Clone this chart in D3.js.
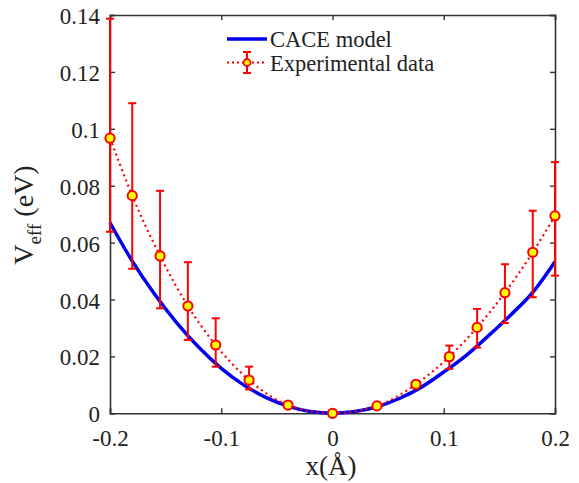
<!DOCTYPE html>
<html><head><meta charset="utf-8">
<script src="https://cdn.jsdelivr.net/npm/d3@7"></script>
<style>body{margin:0;background:#fff}svg{display:block}text{font-family:"Liberation Serif","Times New Roman",Times,"DejaVu Serif",serif;fill:#222}</style>
</head><body><svg id="c" width="579" height="483"></svg>
<script>
const modelX = [-0.2,-0.18,-0.16,-0.14,-0.12,-0.1,-0.08,-0.06,-0.04,-0.02,0,0.02,0.04,0.06,0.08,0.1,0.12,0.14,0.16,0.18,0.2];
const modelY = [0.067,0.0535,0.0419,0.0318,0.0231,0.0158,0.0100,0.0056,0.0025,0.0006,0,0.0006,0.0023,0.0052,0.0092,0.0145,0.0203,0.0272,0.0345,0.0425,0.0533];
const expX = [-0.2,-0.18,-0.155,-0.13,-0.105,-0.075,-0.04,0,0.04,0.075,0.105,0.13,0.155,0.18,0.2];
const expY = [0.0967,0.0765,0.0553,0.0377,0.0240,0.0117,0.0029,0,0.0026,0.0102,0.0199,0.0302,0.0424,0.0566,0.0694];
const expLow = [0.0638,0.0508,0.0369,0.0258,0.0164,0.0084,0.0027,-0.0003,0.0022,0.0099,0.0156,0.0231,0.0317,0.0408,0.0484];
const expHigh = [0.1387,0.1090,0.0782,0.0531,0.0334,0.0164,0.0031,0.0003,0.0030,0.0105,0.0238,0.0367,0.0524,0.0712,0.0883];
const xTicks = [-0.2,-0.1,0,0.1,0.2];
const yTicks = [0,0.02,0.04,0.06,0.08,0.1,0.12,0.14];
const legendLabels = ["CACE model","Experimental data"];

const svg = d3.select("#c");
const L=110,R=555,T=15,B=413.3;
const x = d3.scaleLinear().domain([-0.2,0.2]).range([L,R]);
const y = d3.scaleLinear().domain([0,0.14]).range([B,T]);
const fmt = d => d===0?"0":String(+d.toFixed(2));
const FF = '"Liberation Serif","Times New Roman",Times,"DejaVu Serif",serif';

// axes
const axCol="#333";
const gx = svg.append("g").attr("transform",`translate(0,${B})`)
  .call(d3.axisBottom(x).tickValues(xTicks).tickSize(-5).tickFormat(fmt));
const gy = svg.append("g").attr("transform",`translate(${L},0)`)
  .call(d3.axisLeft(y).tickValues(yTicks).tickSize(-5).tickFormat(fmt));
const gt = svg.append("g").attr("transform",`translate(0,${T})`)
  .call(d3.axisTop(x).tickValues(xTicks).tickSize(-5).tickFormat(""));
const gr = svg.append("g").attr("transform",`translate(${R},0)`)
  .call(d3.axisRight(y).tickValues(yTicks).tickSize(-5).tickFormat(""));
[gx,gy,gt,gr].forEach(g=>{
  g.attr("font-family",FF);
  g.selectAll("path").attr("stroke",axCol).attr("stroke-width",1.6);
  g.selectAll("line").attr("stroke",axCol).attr("stroke-width",1.4);
  g.selectAll("text").style("font-family",FF).style("font-size","23px").attr("fill","#222");
});
gx.selectAll("text").attr("dy","0.71em").attr("y",16);
gy.selectAll("text").attr("dy","0.33em").attr("y",1).attr("x",-10);

// model
svg.append("path").datum(modelX.map((d,i)=>[d,modelY[i]]))
  .attr("fill","none").attr("stroke","#0000ee").attr("stroke-width",3.5)
  .attr("d",d3.line().x(d=>x(d[0])).y(d=>y(d[1])).curve(d3.curveMonotoneX));

// experimental
const red="#ff0000";
const ed = expX.map((d,i)=>({x:d,y:expY[i],lo:expLow[i],hi:expHigh[i]}));
svg.append("path").datum(ed).attr("fill","none").attr("stroke",red).attr("stroke-width",2.2)
  .attr("stroke-dasharray","2,3.5")
  .attr("d",d3.line().x(d=>x(d.x)).y(d=>y(d.y)).curve(d3.curveMonotoneX));
const eb = svg.append("g").attr("stroke",red).attr("stroke-width",2);
eb.selectAll(".v").data(ed).join("line").attr("x1",d=>x(d.x)).attr("x2",d=>x(d.x)).attr("y1",d=>y(d.lo)).attr("y2",d=>y(d.hi));
eb.selectAll(".t").data(ed).join("line").attr("x1",d=>x(d.x)-4).attr("x2",d=>x(d.x)+4).attr("y1",d=>y(d.hi)).attr("y2",d=>y(d.hi));
eb.selectAll(".b").data(ed).join("line").attr("x1",d=>x(d.x)-4).attr("x2",d=>x(d.x)+4).attr("y1",d=>y(d.lo)).attr("y2",d=>y(d.lo));
svg.append("g").selectAll("circle").data(ed).join("circle")
  .attr("cx",d=>x(d.x)).attr("cy",d=>y(d.y)).attr("r",4.6)
  .attr("fill","#ffff00").attr("stroke",red).attr("stroke-width",2);

// legend
const lg = svg.append("g");
lg.append("line").attr("x1",227).attr("x2",267).attr("y1",39).attr("y2",39).attr("stroke","#0000ee").attr("stroke-width",3.5);
lg.append("text").attr("x",270).attr("y",47).style("font-size","22.5px").text(legendLabels[0]);
lg.append("line").attr("x1",227).attr("x2",267).attr("y1",62.5).attr("y2",62.5).attr("stroke",red).attr("stroke-width",2).attr("stroke-dasharray","2,3");
lg.append("line").attr("x1",247).attr("x2",247).attr("y1",52).attr("y2",73).attr("stroke",red).attr("stroke-width",2);
lg.append("line").attr("x1",243).attr("x2",251).attr("y1",52).attr("y2",52).attr("stroke",red).attr("stroke-width",2);
lg.append("line").attr("x1",243).attr("x2",251).attr("y1",73).attr("y2",73).attr("stroke",red).attr("stroke-width",2);
lg.append("circle").attr("cx",247).attr("cy",62.5).attr("r",3.5).attr("fill","#ffff00").attr("stroke",red).attr("stroke-width",1.8);
lg.append("text").attr("x",270).attr("y",71).style("font-size","22.5px").text(legendLabels[1]);

// axis labels
svg.append("text").attr("x",331).attr("y",475).attr("text-anchor","middle").style("font-size","27px").text("x(Å)");
const yl = svg.append("text").attr("transform","translate(33,215) rotate(-90)").attr("text-anchor","middle").style("font-size","28px");
yl.append("tspan").text("V");
yl.append("tspan").attr("dy",8).style("font-size","19px").text("eff");
yl.append("tspan").attr("dy",-8).text(" (eV)");
</script></body></html>
